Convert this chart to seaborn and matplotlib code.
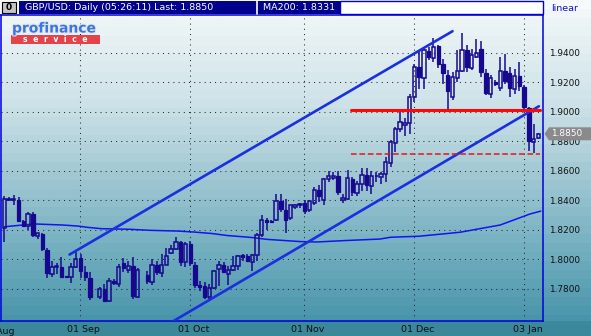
import numpy as np
import pandas as pd
import matplotlib
matplotlib.use("Agg")
import matplotlib.pyplot as plt
import matplotlib.transforms as mtransforms
import matplotlib.patheffects as pe
from matplotlib.patches import Rectangle, Polygon
from matplotlib.colors import LinearSegmentedColormap
import seaborn as sns

# ---------------- data (GBP/USD daily candles, bar index 0..112) ----------------
nan = np.nan
opens = [1.8214, 1.8405, 1.8400, 1.8400, 1.8263, 1.8229, 1.8309, 1.8160, 1.8173, 1.8067,
         1.7902, 1.7950, 1.7951, 1.7887, 1.7879, 1.7946, 1.8010, 1.7917, 1.7875, nan,
         1.7748, 1.7800, 1.7720, 1.7856, 1.7834, 1.7973, 1.7930, 1.7956, 1.7746, nan,
         1.7897, 1.7844, 1.7965, 1.7906, 1.7965, 1.8041, 1.8071, 1.8116, 1.7980, 1.8105,
         1.7965, 1.7830, 1.7823, 1.7748, 1.7807, 1.7936, 1.7965, 1.7902, 1.7929, 1.7958,
         1.8031, 1.8026, 1.7980, 1.8033, 1.8162, 1.8268, 1.8262, 1.8268, 1.8394, 1.8336,
         1.8277, 1.8355, 1.8365, 1.8380, 1.8336, 1.8384, 1.8473, 1.8405, 1.8541, 1.8550,
         1.8563, 1.8401, 1.8410, 1.8546, 1.8451, 1.8508, 1.8568, 1.8495, 1.8563, 1.8557,
         1.8580, 1.8654, 1.8790, 1.8880, 1.8907, 1.8925, 1.9099, 1.9302, 1.9228, 1.9409,
         1.9363, 1.9445, 1.9319, 1.9251, 1.9099, 1.9228, 1.9273, 1.9416, 1.9296, 1.9369,
         1.9427, 1.9264, 1.9122, 1.9200, 1.9158, 1.9272, 1.9258, 1.9156, 1.9241, 1.9167,
         1.9024, 1.8794, 1.8822]
highs = [1.8426, 1.8425, 1.8435, 1.8425, 1.8270, 1.8319, 1.8323, 1.8180, 1.8180, 1.8080,
         1.7992, 1.7975, 1.8019, 1.7890, 1.7973, 1.8048, 1.8037, 1.7958, 1.7913, nan,
         1.7811, 1.7834, 1.7875, 1.7868, 1.7969, 1.8010, 1.7987, 1.8014, 1.7942, nan,
         1.7924, 1.8003, 1.7992, 1.8037, 1.8078, 1.8095, 1.8150, 1.8127, 1.8116, 1.8125,
         1.7980, 1.7852, 1.7847, 1.7834, 1.7926, 1.7987, 1.7985, 1.7958, 1.8026, 1.8030,
         1.8035, 1.8040, 1.8040, 1.8177, 1.8304, 1.8283, 1.8270, 1.8444, 1.8440, 1.8410,
         1.8370, 1.8375, 1.8385, 1.8400, 1.8400, 1.8489, 1.8505, 1.8550, 1.8600, 1.8590,
         1.8600, 1.8440, 1.8602, 1.8555, 1.8530, 1.8618, 1.8618, 1.8600, 1.8590, 1.8590,
         1.8692, 1.8805, 1.8896, 1.9009, 1.8960, 1.9122, 1.9325, 1.9415, 1.9438, 1.9438,
         1.9499, 1.9450, 1.9359, 1.9280, 1.9268, 1.9416, 1.9529, 1.9450, 1.9422, 1.9490,
         1.9475, 1.9290, 1.9248, 1.9215, 1.9370, 1.9393, 1.9300, 1.9286, 1.9336, 1.9183,
         1.9030, 1.8919, 1.8855]
lows = [1.8116, 1.8395, 1.8370, 1.8255, 1.8218, 1.8200, 1.8154, 1.8140, 1.8060, 1.7875,
        1.7883, 1.7900, 1.7879, 1.7875, 1.7838, 1.7940, 1.7875, 1.7856, 1.7725, nan,
        1.7732, 1.7709, 1.7709, 1.7828, 1.7811, 1.7913, 1.7907, 1.7732, 1.7739, nan,
        1.7834, 1.7828, 1.7896, 1.7880, 1.7960, 1.8035, 1.8066, 1.7958, 1.7946, 1.7958,
        1.7807, 1.7788, 1.7730, 1.7730, 1.7800, 1.7822, 1.7905, 1.7829, 1.7925, 1.7928,
        1.7990, 1.7980, 1.7920, 1.7992, 1.8151, 1.8200, 1.8245, 1.8263, 1.8319, 1.8177,
        1.8270, 1.8340, 1.8350, 1.8310, 1.8320, 1.8370, 1.8387, 1.8365, 1.8523, 1.8540,
        1.8433, 1.8385, 1.8405, 1.8430, 1.8430, 1.8460, 1.8460, 1.8440, 1.8525, 1.8512,
        1.8524, 1.8625, 1.8726, 1.8860, 1.8835, 1.8851, 1.9065, 1.9156, 1.9156, 1.9348,
        1.9336, 1.9292, 1.9190, 1.9020, 1.9077, 1.9200, 1.9270, 1.9265, 1.9280, 1.9360,
        1.9235, 1.9115, 1.9095, 1.9170, 1.9140, 1.9186, 1.9099, 1.9120, 1.9140, 1.9020,
        1.8731, 1.8722, 1.8812]
closes = [1.8410, 1.8412, 1.8408, 1.8263, 1.8229, 1.8309, 1.8166, 1.8177, 1.8071, 1.7906,
          1.7946, 1.7958, 1.7883, 1.7880, 1.7946, 1.8003, 1.7924, 1.7883, 1.7743, nan,
          1.7800, 1.7721, 1.7856, 1.7838, 1.7946, 1.7942, 1.7953, 1.7755, 1.7929, nan,
          1.7852, 1.7965, 1.7913, 1.7965, 1.8025, 1.8071, 1.8116, 1.7980, 1.8105, 1.7973,
          1.7829, 1.7815, 1.7748, 1.7807, 1.7924, 1.7965, 1.7913, 1.7929, 1.7958, 1.8026,
          1.8017, 1.7987, 1.8033, 1.8168, 1.8268, 1.8254, 1.8252, 1.8394, 1.8340, 1.8268,
          1.8365, 1.8368, 1.8378, 1.8326, 1.8394, 1.8473, 1.8428, 1.8546, 1.8563, 1.8563,
          1.8455, 1.8415, 1.8550, 1.8455, 1.8512, 1.8568, 1.8505, 1.8563, 1.8565, 1.8580,
          1.8658, 1.8794, 1.8880, 1.8930, 1.8925, 1.9099, 1.9302, 1.9235, 1.9416, 1.9370,
          1.9438, 1.9319, 1.9258, 1.9142, 1.9235, 1.9273, 1.9416, 1.9302, 1.9386, 1.9400,
          1.9268, 1.9129, 1.9228, 1.9190, 1.9272, 1.9204, 1.9160, 1.9241, 1.9174, 1.9031,
          1.8799, 1.8817, 1.8850]

# 200-day moving average, sampled along the line (bar index, value)
ma_idx = [0, 3.2, 6.4, 12.2, 15.4, 17.5, 20.4, 26.3, 30.5, 36.4, 39.5, 43.7, 46.7, 52.1,
          55.0, 59.2, 62.0, 65.5, 71.0, 78.8, 81.0, 87.0, 95.6, 104.0, 110.2, 112.5]
ma_val = [1.8221, 1.8231, 1.8240, 1.8233, 1.8226, 1.8217, 1.8208, 1.8204, 1.8197, 1.8192,
          1.8186, 1.8175, 1.8162, 1.8148, 1.8136, 1.8127, 1.8121, 1.8118, 1.8127, 1.8138,
          1.8150, 1.8157, 1.8184, 1.8233, 1.8307, 1.8327]

# drawn trend channel and levels (bar index, price)
upper_chan_x = [13.7, 94.0]
upper_chan_y = [1.8033, 1.9544]
lower_chan_x = [34.0, 112.1]
lower_chan_y = [1.7555, 1.9036]
resist_x = [72.7, 112.3]
resist_y = [1.9010, 1.9010]
support_x = [72.7, 112.3]
support_y = [1.8716, 1.8716]

tick_pos = [15.9, 38.95, 62.95, 86.0, 109.0]
tick_lab = ["01 Sep", "01 Oct", "01 Nov", "01 Dec", "03 Jan"]
aug_pos, aug_lab = -2.0, "01 Aug"
y_ticks = [1.78, 1.80, 1.82, 1.84, 1.86, 1.88, 1.90, 1.92, 1.94]
last_price = 1.8850
title_txt = "GBP/USD: Daily (05:26:11) Last: 1.8850"
ma_txt = "MA200: 1.8331"

# ---------------- figure ----------------
sns.set_style("white")
plt.rcParams["font.family"] = ["DejaVu Sans"]

W, H = 591, 336
fig = plt.figure(figsize=(W / 100, H / 100), dpi=100)

def fx(x):
    return x / W

def fy(y):
    return 1 - y / H

# background gradient (banded)
bg = fig.add_axes([0, 0, 1, 1], zorder=-10)
bg.axis("off")
cmap = LinearSegmentedColormap.from_list(
    "bgc",
    [(0.0, "#f6fafb"), (15 / 321, "#eef5f7"), (100 / 321, "#cde2e8"),
     (170 / 321, "#a2c8d3"), (250 / 321, "#70adbf"), (1.0, "#4793a9")])
rows = np.arange(H)
band = (rows // 9) * 9
vals = np.clip(band / 321.0, 0, 1)
img = cmap(vals)[:, :3]
img[321:] = np.array([0x3a, 0x88, 0x9a]) / 255.0
bg.imshow(img.reshape(H, 1, 3), aspect="auto", extent=[0, 1, 0, 1], origin="upper")
bg.set_xlim(0, 1)
bg.set_ylim(0, 1)

ax = fig.add_axes([fx(1.5), fy(321), fx(543) - fx(1.5), fy(14.5) - fy(321)])
ax.patch.set_alpha(0)

x_all = np.arange(len(opens))
o = np.array(opens); h = np.array(highs); l = np.array(lows); c = np.array(closes)
candle_col = "#17098f"
valid = ~np.isnan(o)
bot = np.minimum(o, c); top = np.maximum(o, c)
up = (c >= o) & valid
dn = (c < o) & valid

# wicks (outside body)
ax.vlines(x_all[valid], l[valid], bot[valid], color=candle_col, lw=1.1, zorder=4)
ax.vlines(x_all[valid], top[valid], h[valid], color=candle_col, lw=1.1, zorder=4)
# bodies
ax.bar(x_all[dn], (top - bot)[dn], bottom=bot[dn], width=0.72, color=candle_col,
       edgecolor=candle_col, linewidth=0.9, zorder=5)
ax.bar(x_all[up], np.maximum((top - bot)[up], 0.00005), bottom=bot[up], width=0.72,
       facecolor="none", edgecolor=candle_col, linewidth=1.1, zorder=5)

# moving average
ma_df = pd.DataFrame({"bar": ma_idx, "ma": ma_val})
sns.lineplot(data=ma_df, x="bar", y="ma", ax=ax, color="#1414ee", lw=1.1,
             sort=False, zorder=3, estimator=None)

# channel
for xs, ys in [(upper_chan_x, upper_chan_y), (lower_chan_x, lower_chan_y)]:
    d = pd.DataFrame({"bar": xs, "p": ys})
    sns.lineplot(data=d, x="bar", y="p", ax=ax, color="#1a2fe2", lw=1.9,
                 sort=False, zorder=6, estimator=None)
d = pd.DataFrame({"bar": resist_x, "p": resist_y})
sns.lineplot(data=d, x="bar", y="p", ax=ax, color="#ff0808", lw=2.2,
             sort=False, zorder=7, estimator=None)
d = pd.DataFrame({"bar": support_x, "p": support_y})
sns.lineplot(data=d, x="bar", y="p", ax=ax, color="#e01818", lw=1.1,
             sort=False, zorder=7, estimator=None, linestyle=(0, (3.7, 1.8)))

# axes limits & ticks
ax.set_xlim(-0.57, 112.97)
ax.set_ylim(1.75835, 1.96571)
ax.set_xlabel("")
ax.set_ylabel("")
ax.set_yticks(y_ticks)
ax.set_yticklabels([f"{v:.4f}" for v in y_ticks])
ax.yaxis.tick_right()
ax.tick_params(axis="y", length=0, pad=4.2, labelsize=6.4, labelcolor="#111111")
ax.set_xticks(tick_pos)
ax.set_xticklabels(tick_lab)
ax.tick_params(axis="x", length=0, pad=3.2, labelsize=6.8, labelcolor="#111111")
off = mtransforms.ScaledTranslation(3.4 / 100, 0, fig.dpi_scale_trans)
for lab in ax.get_xticklabels():
    lab.set_transform(lab.get_transform() + off)
ax.text(aug_pos, -0.0 , aug_lab, transform=mtransforms.blended_transform_factory(ax.transData, ax.transAxes) + off + mtransforms.ScaledTranslation(0, -(3.2 + 1.0) / 72, fig.dpi_scale_trans),
        ha="center", va="top", fontsize=6.8, color="#111111", clip_on=False)
ax.grid(True, color="#2a2a2a", linestyle=(0, (1, 4)), linewidth=0.75)
for s in ax.spines.values():
    s.set_color("#0000dd")
    s.set_linewidth(1.1)

# ---------------- header ----------------
def rect_px(x0, y0, x1, y1, **kw):
    fig.patches.append(Rectangle((fx(x0), fy(y1)), fx(x1) - fx(x0), fy(y0) - fy(y1),
                                 transform=fig.transFigure, figure=fig, **kw))

rect_px(340, 0.7, 543, 14.3, facecolor="#ffffff", edgecolor="#0000dd", linewidth=1.0)
rect_px(19, 0.8, 340, 13.6, facecolor="#00008c", edgecolor="none")
fig.add_artist(plt.Line2D([fx(257), fx(257)], [fy(0.8), fy(13.6)], color="white",
                          lw=1.2, transform=fig.transFigure))
rect_px(2, 2, 16, 12.5, facecolor="#c4c4c4", edgecolor="#000000", linewidth=0.8)
fig.text(fx(9), fy(7.3), "0", ha="center", va="center", fontsize=6.5,
         fontweight="bold", color="#000000")
fig.text(fx(25), fy(7.4), title_txt, ha="left", va="center", fontsize=6.8, color="white")
fig.text(fx(263), fy(7.4), ma_txt, ha="left", va="center", fontsize=6.8, color="white")
fig.text(fx(565), fy(8.5), "linear", ha="center", va="center", fontsize=6.8, color="#1010cc")

# logo
t = fig.text(fx(12), fy(32.5), "profinance", ha="left", va="baseline", fontsize=10,
             fontweight="bold", color="#3c74e0")
t.set_path_effects([pe.withStroke(linewidth=1.6, foreground="#dfe6ec")])
rect_px(11, 35, 100, 43.5, facecolor="#e4434c", edgecolor="none")
fig.text(fx(55.5), fy(39.5), "s  e  r  v  i  c  e", ha="center", va="center",
         fontsize=5.6, fontweight="bold", color="white")

# last price tag
bt = mtransforms.blended_transform_factory(fig.transFigure, ax.transData)
dy = 6.5 / 1478
tag = Polygon([(fx(544.5), last_price), (fx(549), last_price + dy), (fx(591), last_price + dy),
               (fx(591), last_price - dy), (fx(549), last_price - dy)],
              closed=True, transform=bt, facecolor="#8a8a8a", edgecolor="none",
              clip_on=False, zorder=10)
ax.add_artist(tag)
ax.text(fx(551), last_price, f"{last_price:.4f}", transform=bt, ha="left", va="center",
        fontsize=6.4, color="white", zorder=11, clip_on=False)

fig.savefig("out.png", dpi=100)
